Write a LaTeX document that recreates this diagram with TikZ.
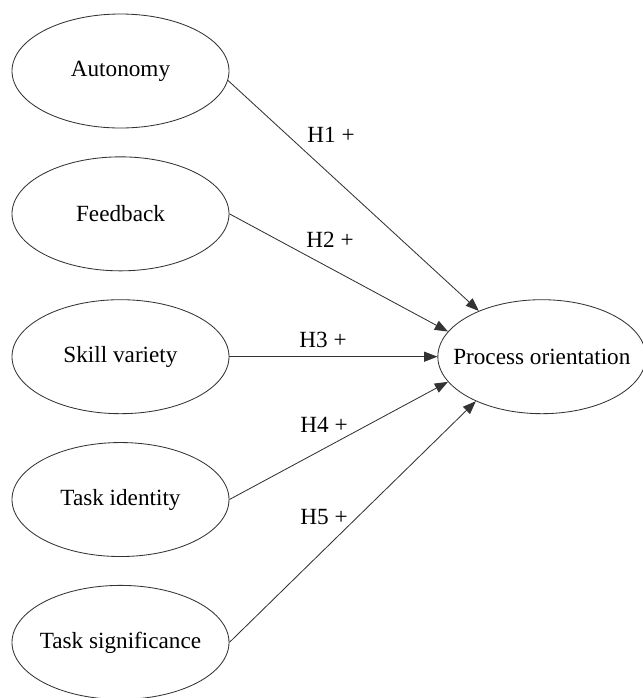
\documentclass[tikz,border=0pt]{standalone}
\usepackage{fontspec}
\setmainfont{Liberation Serif}
\usepackage{tikz}
\usetikzlibrary{shapes,arrows.meta,positioning}

\begin{document}
\begin{tikzpicture}[
    node distance=0.7cm,
    every node/.style={font=\fontsize{16.5}{19}\selectfont},
    factor/.style={ellipse, draw=black!80, line width=0.6pt, minimum width=5.425cm, minimum height=2.85cm, inner xsep=-0.5cm},
    outcome/.style={factor, minimum width=5.2cm},
    arrow/.style={-{Triangle[length=0.33cm,width=0.25cm]}, line width=0.6pt, draw=black!80}
]
    \useasboundingbox (0,0) rectangle (16.075,-17.45);

    \node[factor] (aut) at (3.0125,-1.775) {Autonomy};
    \node[factor, below=of aut] (fb) {Feedback};
    \node[factor, below=of fb] (sv) {Skill variety};
    \node[factor, below=of sv] (ti) {Task identity};
    \node[factor, below=of ti] (ts) {Task significance};
    \node[outcome, right=5.2cm of sv] (po) {Process orientation};

    \node (h1) at (8.275,-3.375) {H1 +};
    \node (h2) at (8.25,-6.0) {H2 +};
    \node (h3) at (8.075,-8.5) {H3 +};
    \node (h4) at (8.1,-10.625) {H4 +};
    \node (h5) at (8.1,-12.925) {H5 +};

    \draw[arrow] (aut.-5) -- (po.144);
    \draw[arrow] (fb.east) -- (po.165);
    \draw[arrow] (sv.east) -- (po.west);
    \draw[arrow] (ti.east) -- (po.195);
    \draw[arrow] (ts.east) -- (po.214);
\end{tikzpicture}
\end{document}
